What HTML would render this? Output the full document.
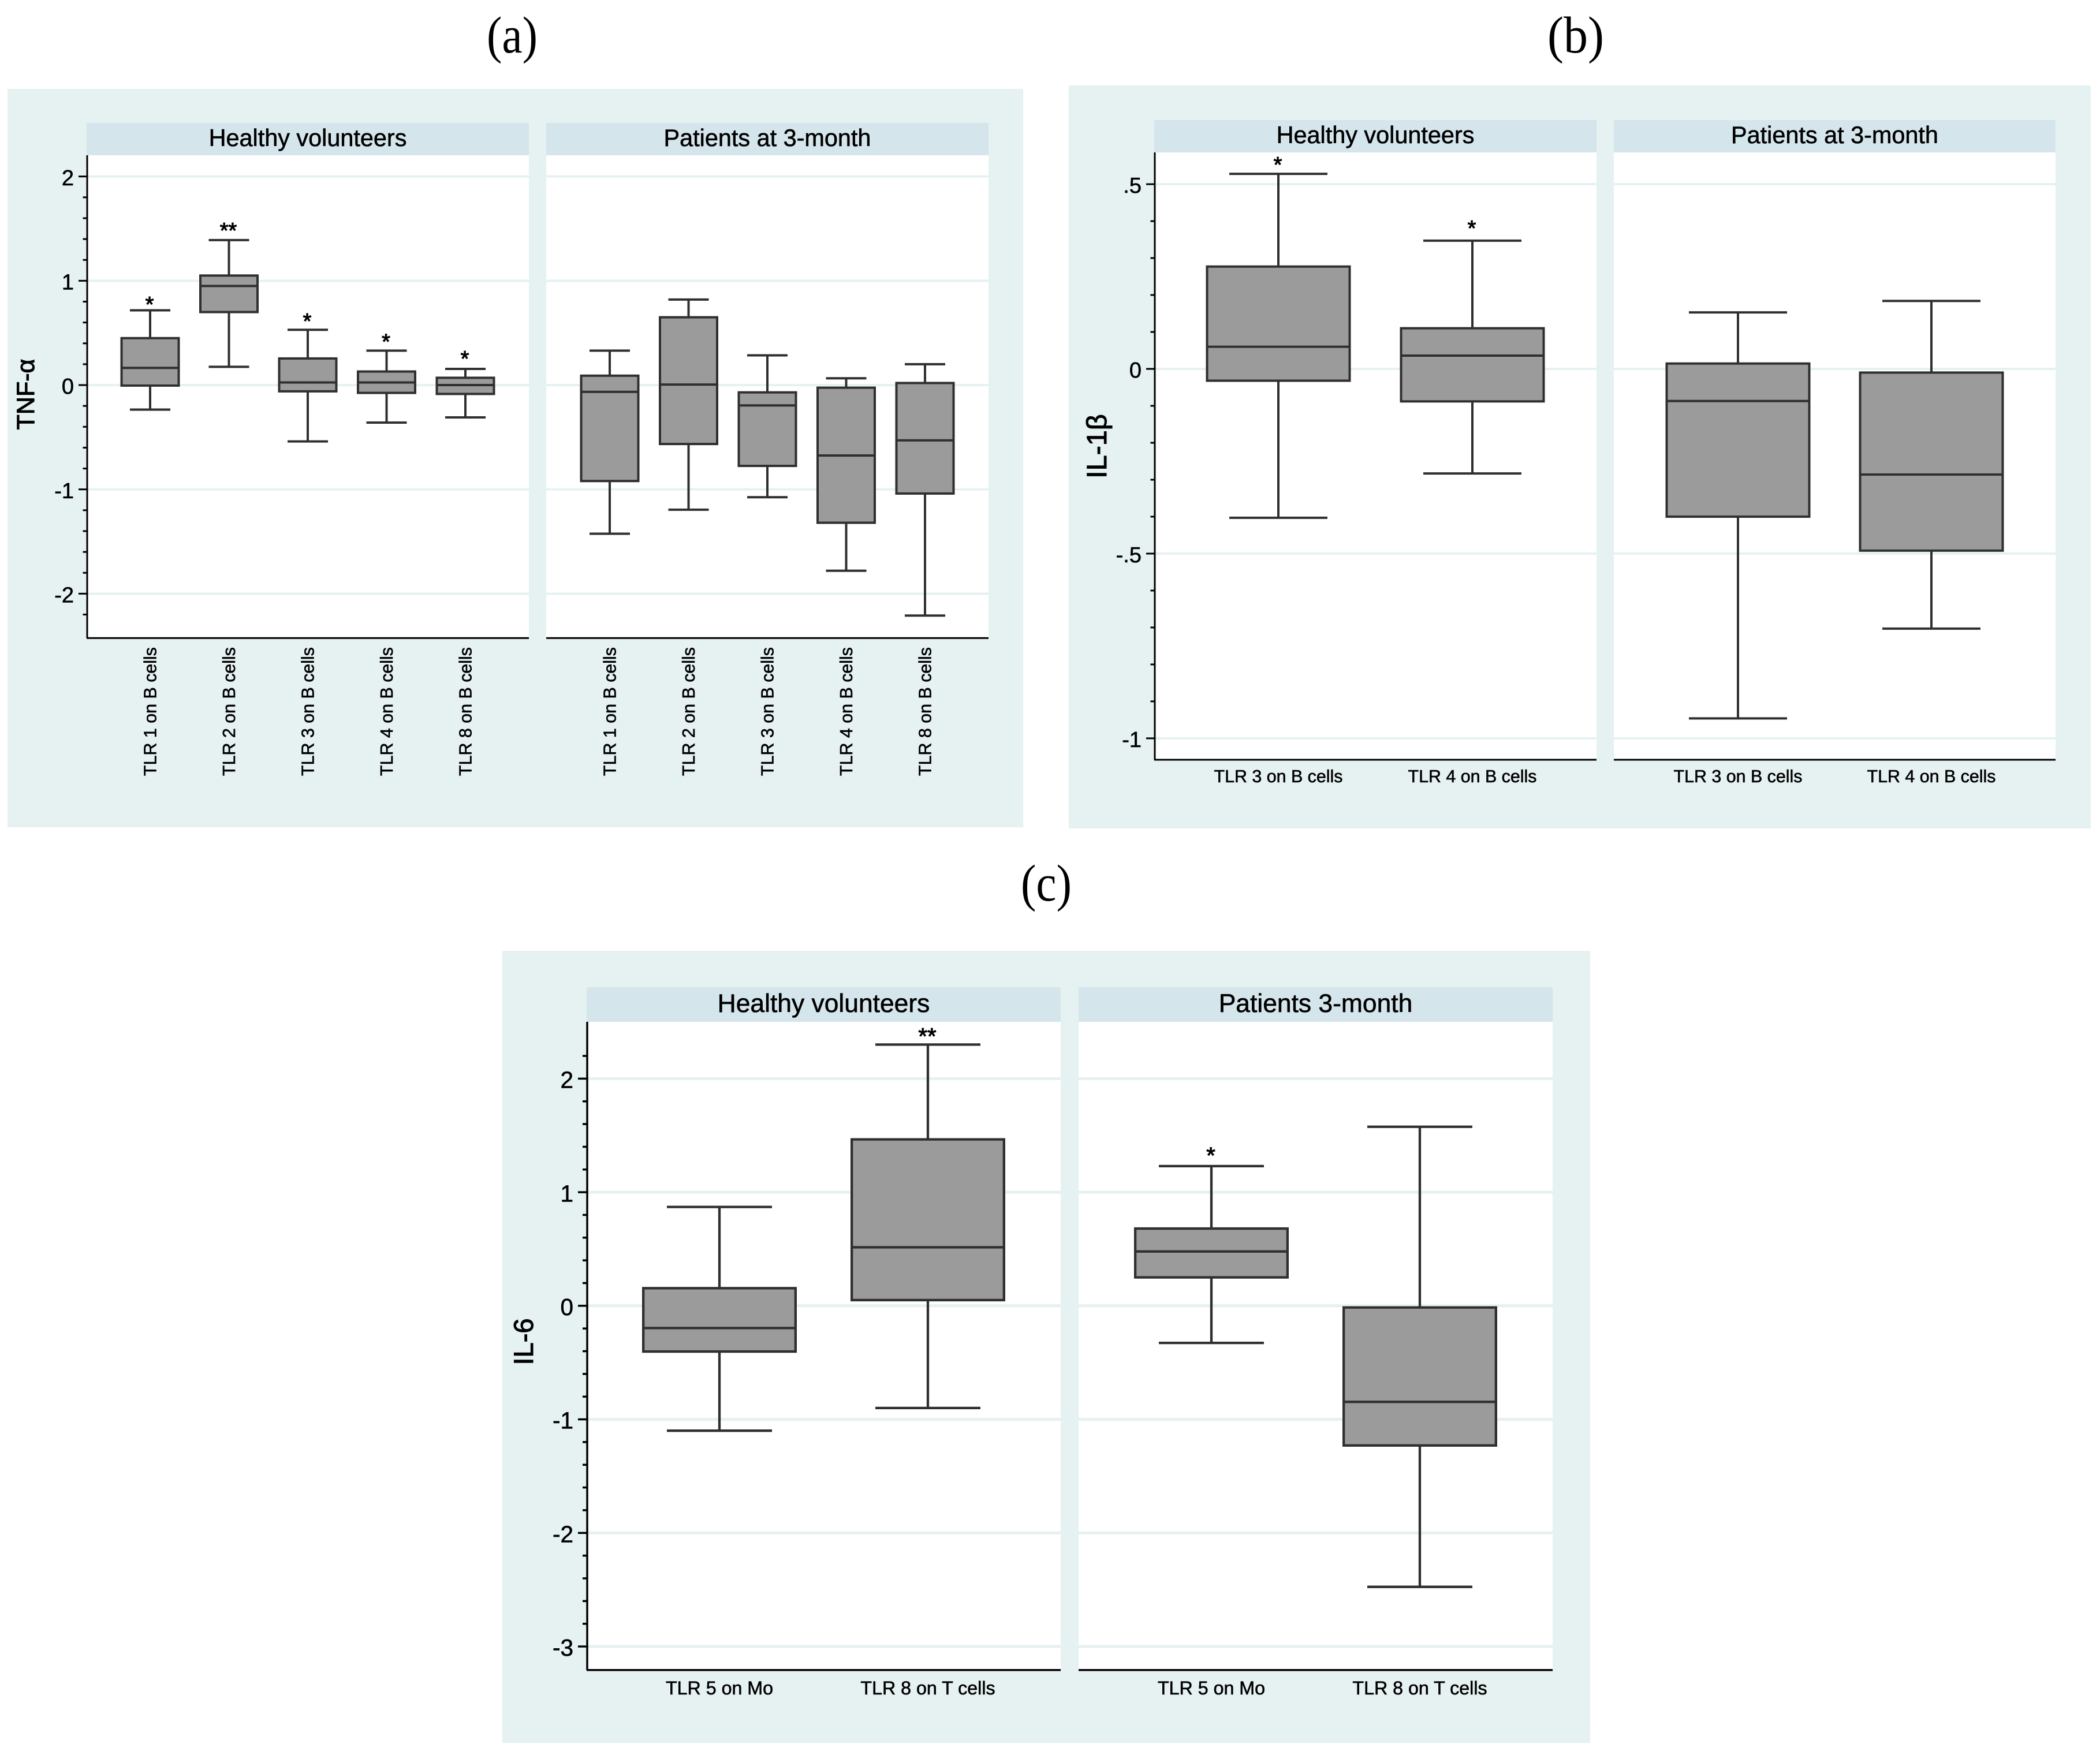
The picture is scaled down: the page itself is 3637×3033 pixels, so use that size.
<!DOCTYPE html>
<html lang="en">
<head>
<meta charset="utf-8">
<title>TLR expression and cytokine box plots</title>
<style>
  html, body { margin: 0; padding: 0; background: #ffffff; }
  svg { display: block; }
  text { font-family: "Liberation Sans", "DejaVu Sans", sans-serif; fill: #000; stroke: #000; stroke-width: 0.6px; }
  text.panel-letter { font-family: "Liberation Serif", serif; stroke: none; }
</style>
</head>
<body>
<svg id="figure" xmlns="http://www.w3.org/2000/svg" width="3637" height="3033" viewBox="0 0 3637 3033">
  <rect x="0" y="0" width="3637" height="3033" fill="#ffffff"/>
  <text class="panel-letter" x="887" y="91" font-size="90" text-anchor="middle" textLength="88" lengthAdjust="spacingAndGlyphs">(a)</text>
  <text class="panel-letter" x="2729" y="91" font-size="90" text-anchor="middle" textLength="98" lengthAdjust="spacingAndGlyphs">(b)</text>
  <text class="panel-letter" x="1812" y="1560" font-size="90" text-anchor="middle" textLength="88" lengthAdjust="spacingAndGlyphs">(c)</text>
</svg>
<script>
/* ---------- Chart (a): TNF-alpha ---------- */
const aCategories = ['TLR 1 on B cells', 'TLR 2 on B cells', 'TLR 3 on B cells', 'TLR 4 on B cells', 'TLR 8 on B cells'];
const aMajorTicks = [2, 1, 0, -1, -2];
const aTickLabels = ['2', '1', '0', '-1', '-2'];
const aMinorTicks = [1.8, 1.6, 1.4, 1.2, 0.8, 0.6, 0.4, 0.2, -0.2, -0.4, -0.6, -0.8, -1.2, -1.4, -1.6, -1.8, -2.2];
const aHealthyHigh   = [0.717, 1.39, 0.53, 0.33, 0.155];
const aHealthyQ3     = [0.45, 1.05, 0.255, 0.13, 0.07];
const aHealthyMedian = [0.165, 0.95, 0.025, 0.025, 0];
const aHealthyQ1     = [-0.005, 0.70, -0.06, -0.075, -0.085];
const aHealthyLow    = [-0.235, 0.175, -0.54, -0.36, -0.31];
const aHealthyStars  = ['*', '**', '*', '*', '*'];
const aHealthyStarAt = [0.79, 1.5, 0.63, 0.435, 0.27];
const aPatientHigh   = [0.33, 0.82, 0.285, 0.065, 0.2];
const aPatientQ3     = [0.09, 0.65, -0.07, -0.025, 0.02];
const aPatientMedian = [-0.065, 0.005, -0.195, -0.675, -0.53];
const aPatientQ1     = [-0.92, -0.565, -0.775, -1.32, -1.04];
const aPatientLow    = [-1.425, -1.195, -1.075, -1.78, -2.21];

/* ---------- Chart (b): IL-1beta ---------- */
const bCategories = ['TLR 3 on B cells', 'TLR 4 on B cells'];
const bMajorTicks = [0.5, 0, -0.5, -1];
const bTickLabels = ['.5', '0', '-.5', '-1'];
const bMinorTicks = [0.4, 0.3, 0.2, 0.1, -0.1, -0.2, -0.3, -0.4, -0.6, -0.7, -0.8, -0.9];
const bHealthyHigh   = [0.528, 0.347];
const bHealthyQ3     = [0.277, 0.11];
const bHealthyMedian = [0.06, 0.036];
const bHealthyQ1     = [-0.032, -0.088];
const bHealthyLow    = [-0.403, -0.283];
const bHealthyStars  = ['*', '*'];
const bHealthyStarAt = [0.558, 0.386];
const bPatientHigh   = [0.153, 0.184];
const bPatientQ3     = [0.0145, -0.01];
const bPatientMedian = [-0.087, -0.286];
const bPatientQ1     = [-0.40, -0.492];
const bPatientLow    = [-0.946, -0.703];

/* ---------- Chart (c): IL-6 ---------- */
const cCategories = ['TLR 5 on Mo', 'TLR 8 on T cells'];
const cMajorTicks = [2, 1, 0, -1, -2, -3];
const cTickLabels = ['2', '1', '0', '-1', '-2', '-3'];
const cMinorTicks = [2.2, 1.8, 1.6, 1.4, 1.2, 0.8, 0.6, 0.4, 0.2, -0.2, -0.4, -0.6, -0.8, -1.2, -1.4, -1.6, -1.8, -2.2, -2.4, -2.6, -2.8];
const cHealthyHigh   = [0.87, 2.30];
const cHealthyQ3     = [0.155, 1.465];
const cHealthyMedian = [-0.196, 0.515];
const cHealthyQ1     = [-0.403, 0.05];
const cHealthyLow    = [-1.10, -0.90];
const cHealthyStars  = ['', '**'];
const cHealthyStarAt = [0, 2.39];
const cPatientHigh   = [1.23, 1.576];
const cPatientQ3     = [0.68, -0.015];
const cPatientMedian = [0.478, -0.846];
const cPatientQ1     = [0.25, -1.23];
const cPatientLow    = [-0.327, -2.475];
const cPatientStars  = ['*', ''];
const cPatientStarAt = [1.34, 0];

const SVG_NS = 'http://www.w3.org/2000/svg';
const figure = document.getElementById('figure');
const BG = '#e6f1f2';
const STRIP = '#d5e5ec';
const DARK = '#2f2f2f';
const FILL = '#9b9b9b';

function make(tag, parent, props, content) {
  const node = document.createElementNS(SVG_NS, tag);
  Object.keys(props).forEach(function (k) { node.setAttribute(k, props[k]); });
  if (content !== undefined) node.textContent = content;
  parent.appendChild(node);
  return node;
}

function drawChart(c) {
  const g = make('g', figure, {});
  
  

  const bg = make('rect', g, { x: c.bg[0], y: c.bg[1], width: c.bg[2] - c.bg[0], height: c.bg[3] - c.bg[1], fill: BG });
  
  

  const k = (c.plotBottom - c.plotTop) / (c.ymax - c.ymin);
  const yScale = function (v) { return c.plotTop + (c.ymax - v) * k; };

  c.facets.forEach(function (f, fi) {
    const fg = make('g', g, {});
    
    

    const strip = make('rect', fg, { x: f.left, y: c.stripTop, width: f.right - f.left, height: c.plotTop - c.stripTop, fill: STRIP });
    
    

    const title = make('text', fg, { x: (f.left + f.right) / 2, y: c.stripBaseline, 'font-size': c.stripFont, 'text-anchor': 'middle' }, f.title);
    
    

    const plot = make('rect', fg, { x: f.left, y: c.plotTop, width: f.right - f.left, height: c.plotBottom - c.plotTop, fill: '#ffffff' });
    
    

    c.majors.forEach(function (v) {
      const grid = make('line', fg, { x1: f.left, x2: f.right, y1: yScale(v), y2: yScale(v), stroke: BG, 'stroke-width': c.gridW });
      
      
    });

    const n = c.categories.length;
    const step = (f.right - f.left - 2 * c.edge) / (n - 1);
    const xScale = function (i) { return f.left + c.edge + step * i; };

    c.categories.forEach(function (cat, i) {
      const x = xScale(i);
      const bx = make('g', fg, {});
      
      

      const whisker = make('line', bx, { x1: x, x2: x, y1: yScale(f.high[i]), y2: yScale(f.low[i]), stroke: DARK, 'stroke-width': c.lineW });
      
      

      const capHigh = make('line', bx, { x1: x - c.capW / 2, x2: x + c.capW / 2, y1: yScale(f.high[i]), y2: yScale(f.high[i]), stroke: DARK, 'stroke-width': c.lineW });
      
      

      const capLow = make('line', bx, { x1: x - c.capW / 2, x2: x + c.capW / 2, y1: yScale(f.low[i]), y2: yScale(f.low[i]), stroke: DARK, 'stroke-width': c.lineW });
      
      

      const yq3 = yScale(f.q3[i]);
      const yq1 = yScale(f.q1[i]);
      const fill = make('rect', bx, { x: x - c.boxW / 2, y: yq3, width: c.boxW, height: yq1 - yq3, fill: FILL });
      
      

      const outline = make('rect', bx, { x: x - c.boxW / 2 + c.lineW / 2, y: yq3, width: c.boxW - c.lineW, height: yq1 - yq3, fill: 'none', stroke: DARK, 'stroke-width': c.lineW });
      
      

      const med = make('line', bx, { x1: x - c.boxW / 2, x2: x + c.boxW / 2, y1: yScale(f.median[i]), y2: yScale(f.median[i]), stroke: DARK, 'stroke-width': c.lineW });
      
      

      if (f.stars && f.stars[i]) {
        const star = make('text', bx, { x: x - 1, y: yScale(f.starAt[i]) + 0.42 * c.starFont, 'font-size': c.starFont, 'text-anchor': 'middle', style: 'stroke-width:1.1px' }, f.stars[i]);
        
        
      }

      const label = c.rotated
        ? make('text', fg, { transform: 'translate(' + (x + 10.5) + ' ' + c.labelPos + ') rotate(-90)', 'font-size': c.labelFont, 'text-anchor': 'end' }, cat)
        : make('text', fg, { x: x, y: c.labelPos, 'font-size': c.labelFont, 'text-anchor': 'middle' }, cat);
      
      
    });

    const xAxis = make('line', fg, { x1: f.left, x2: f.right, y1: c.plotBottom, y2: c.plotBottom, stroke: '#000', 'stroke-width': c.axisW });
    
    

    if (fi === 0) {
      const ax = f.left + 1;
      const yAxis = make('line', fg, { x1: ax, x2: ax, y1: c.plotTop, y2: c.plotBottom, stroke: '#000', 'stroke-width': c.axisW });
      
      

      c.minors.forEach(function (v) {
        const t = make('line', fg, { x1: ax - c.tickLen / 2, x2: ax, y1: yScale(v), y2: yScale(v), stroke: '#000', 'stroke-width': c.axisW });
        
        
      });

      c.majors.forEach(function (v, i) {
        const t = make('line', fg, { x1: ax - c.tickLen, x2: ax, y1: yScale(v), y2: yScale(v), stroke: '#000', 'stroke-width': c.axisW });
        
        

        const lab = make('text', fg, { x: ax - c.tickLen - 8, y: yScale(v) + c.tickFont * 0.4, 'font-size': c.tickFont, 'text-anchor': 'end' }, c.tickLabels[i]);
        
        
      });

      const yTitle = make('text', fg, { transform: 'translate(' + c.yTitleX + ' ' + c.yTitleY + ') rotate(-90)', 'font-size': c.yTitleFont, 'text-anchor': 'middle', style: 'stroke-width:1.1px' }, c.yTitle);
      
      
    }
  });
}

drawChart({
  key: 'a', bg: [13, 154, 1772, 1433], stripTop: 213, stripBaseline: 253, stripFont: 41.4,
  plotTop: 269, plotBottom: 1105.3, ymax: 2.203, ymin: -2.426,
  categories: aCategories, majors: aMajorTicks, tickLabels: aTickLabels, minors: aMinorTicks,
  edge: 110, boxW: 103, capW: 70, lineW: 4, gridW: 4, axisW: 3, tickLen: 15, tickFont: 38,
  rotated: true, labelPos: 1121, labelFont: 30.4, starFont: 38,
  yTitle: 'TNF-α', yTitleX: 59, yTitleY: 683, yTitleFont: 43,
  facets: [
    { title: 'Healthy volunteers', left: 150, right: 916, high: aHealthyHigh, q3: aHealthyQ3, median: aHealthyMedian, q1: aHealthyQ1, low: aHealthyLow, stars: aHealthyStars, starAt: aHealthyStarAt },
    { title: 'Patients at 3-month', left: 946, right: 1712, high: aPatientHigh, q3: aPatientQ3, median: aPatientMedian, q1: aPatientQ1, low: aPatientLow }
  ]
});

drawChart({
  key: 'b', bg: [1851, 148, 3621, 1435], stripTop: 208, stripBaseline: 248, stripFont: 41.4,
  plotTop: 264, plotBottom: 1316, ymax: 0.586, ymin: -1.058,
  categories: bCategories, majors: bMajorTicks, tickLabels: bTickLabels, minors: bMinorTicks,
  edge: 215, boxW: 251, capW: 170, lineW: 4, gridW: 4, axisW: 3, tickLen: 15, tickFont: 38,
  rotated: false, labelPos: 1355, labelFont: 30.4, starFont: 38,
  yTitle: 'IL-1β', yTitleX: 1916, yTitleY: 773, yTitleFont: 48.5,
  facets: [
    { title: 'Healthy volunteers', left: 1999, right: 2765, high: bHealthyHigh, q3: bHealthyQ3, median: bHealthyMedian, q1: bHealthyQ1, low: bHealthyLow, stars: bHealthyStars, starAt: bHealthyStarAt },
    { title: 'Patients at 3-month', left: 2795, right: 3560, high: bPatientHigh, q3: bPatientQ3, median: bPatientMedian, q1: bPatientQ1, low: bPatientLow }
  ]
});

drawChart({
  key: 'c', bg: [870, 1647, 2754, 3019], stripTop: 1710, stripBaseline: 1753, stripFont: 44.4,
  plotTop: 1770, plotBottom: 2892.7, ymax: 2.5, ymin: -3.207,
  categories: cCategories, majors: cMajorTicks, tickLabels: cTickLabels, minors: cMinorTicks,
  edge: 230, boxW: 268, capW: 182, lineW: 4.3, gridW: 5, axisW: 3.5, tickLen: 16, tickFont: 40.5,
  rotated: false, labelPos: 2935, labelFont: 32.2, starFont: 40,
  yTitle: 'IL-6', yTitleX: 923, yTitleY: 2324, yTitleFont: 47,
  facets: [
    { title: 'Healthy volunteers', left: 1016, right: 1837, high: cHealthyHigh, q3: cHealthyQ3, median: cHealthyMedian, q1: cHealthyQ1, low: cHealthyLow, stars: cHealthyStars, starAt: cHealthyStarAt },
    { title: 'Patients 3-month', left: 1868, right: 2689, high: cPatientHigh, q3: cPatientQ3, median: cPatientMedian, q1: cPatientQ1, low: cPatientLow, stars: cPatientStars, starAt: cPatientStarAt }
  ]
});
</script>
</body>
</html>
